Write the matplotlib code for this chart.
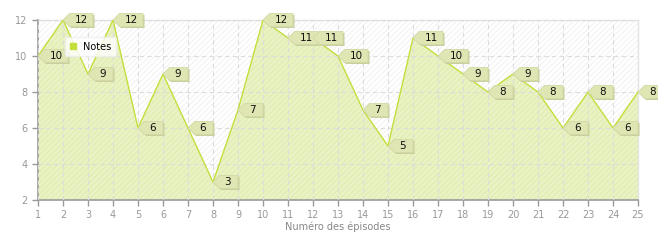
import matplotlib
matplotlib.use("Agg")
import matplotlib.pyplot as plt
from matplotlib.patches import Rectangle, Polygon
from matplotlib import transforms

episodes = list(range(1, 26))
notes = [10, 12, 9, 12, 6, 9, 6, 3, 7, 12, 11, 11, 10, 7, 5, 11, 10, 9, 8, 9, 8, 6, 8, 6, 8]
yticks = [2, 4, 6, 8, 10, 12]

plt.rcParams['hatch.linewidth'] = 0.5
fig = plt.figure(figsize=(6.58, 2.4), dpi=100)
ax = fig.add_axes([38/658, 40/240, 600/658, 180/240])

# hatched background
bg = Rectangle((0, 0), 1, 1, transform=ax.transAxes, facecolor='white',
               edgecolor='#ececec', hatch='//////', lw=0, zorder=0)
ax.add_patch(bg)

ax.fill_between(episodes, notes, 2, facecolor='#e9f2c2', edgecolor='#dde9ad',
                hatch='//////', lw=0, zorder=1)
ax.plot(episodes, notes, color='#c4de3c', lw=1.0, zorder=3, label='Notes')

ax.grid(True, color='#dcdcdc', ls=(0, (4, 3)), lw=0.8, zorder=2)
ax.set_axisbelow(False)

# callout labels (pixels / 100 -> inches), width follows the number of digits
for x, y in zip(episodes, notes):
    w = 0.25 if y < 10 else 0.30
    shape = [(0.0, 0.0), (0.065, 0.065), (w, 0.065), (w, -0.065), (0.065, -0.065)]
    shadow = [(p[0] + 0.015, p[1] - 0.015) for p in shape]
    tr = fig.dpi_scale_trans + transforms.ScaledTranslation(x, y, ax.transData)
    ax.add_patch(Polygon(shadow, closed=True, transform=tr, facecolor='#c9cf9f',
                         lw=0, zorder=5, clip_on=False))
    ax.add_patch(Polygon(shape, closed=True, transform=tr, facecolor='#dfe6b3',
                         edgecolor='#d2d9a4', lw=0.6, zorder=5, clip_on=False))
    ax.annotate(str(y), (x, y), xytext=(8.2, -0.3), textcoords='offset points',
                ha='left', va='center', fontsize=7.5, color='#111111', zorder=6,
                annotation_clip=False)

ax.set_xlim(1, 25)
ax.set_ylim(2, 12)
ax.set_xticks(episodes)
ax.set_yticks(yticks)
ax.tick_params(colors='#999999', labelsize=7, length=4, width=1, direction='out')
for s in ['top', 'right']:
    ax.spines[s].set_color('#e4e4e4')
    ax.spines[s].set_linewidth(1.0)
for s in ['left', 'bottom']:
    ax.spines[s].set_color('#999999')
    ax.spines[s].set_linewidth(1.2)
ax.set_xlabel('Numéro des épisodes', fontsize=7, color='#888888', labelpad=1)

h = plt.Line2D([], [], color='#c4de3c', marker='s', ls='none', markersize=4)
leg = ax.legend([h], ['Notes'], loc='upper left', bbox_to_anchor=(0.04, 0.92),
                fontsize=7, frameon=True, fancybox=True, handlelength=0.8,
                handletextpad=0.6, borderpad=0.45, borderaxespad=0.3)
leg.get_frame().set_edgecolor('#eeeeee')
leg.get_frame().set_facecolor('white')
leg.set_zorder(7)

fig.savefig('out.png', dpi=100)
